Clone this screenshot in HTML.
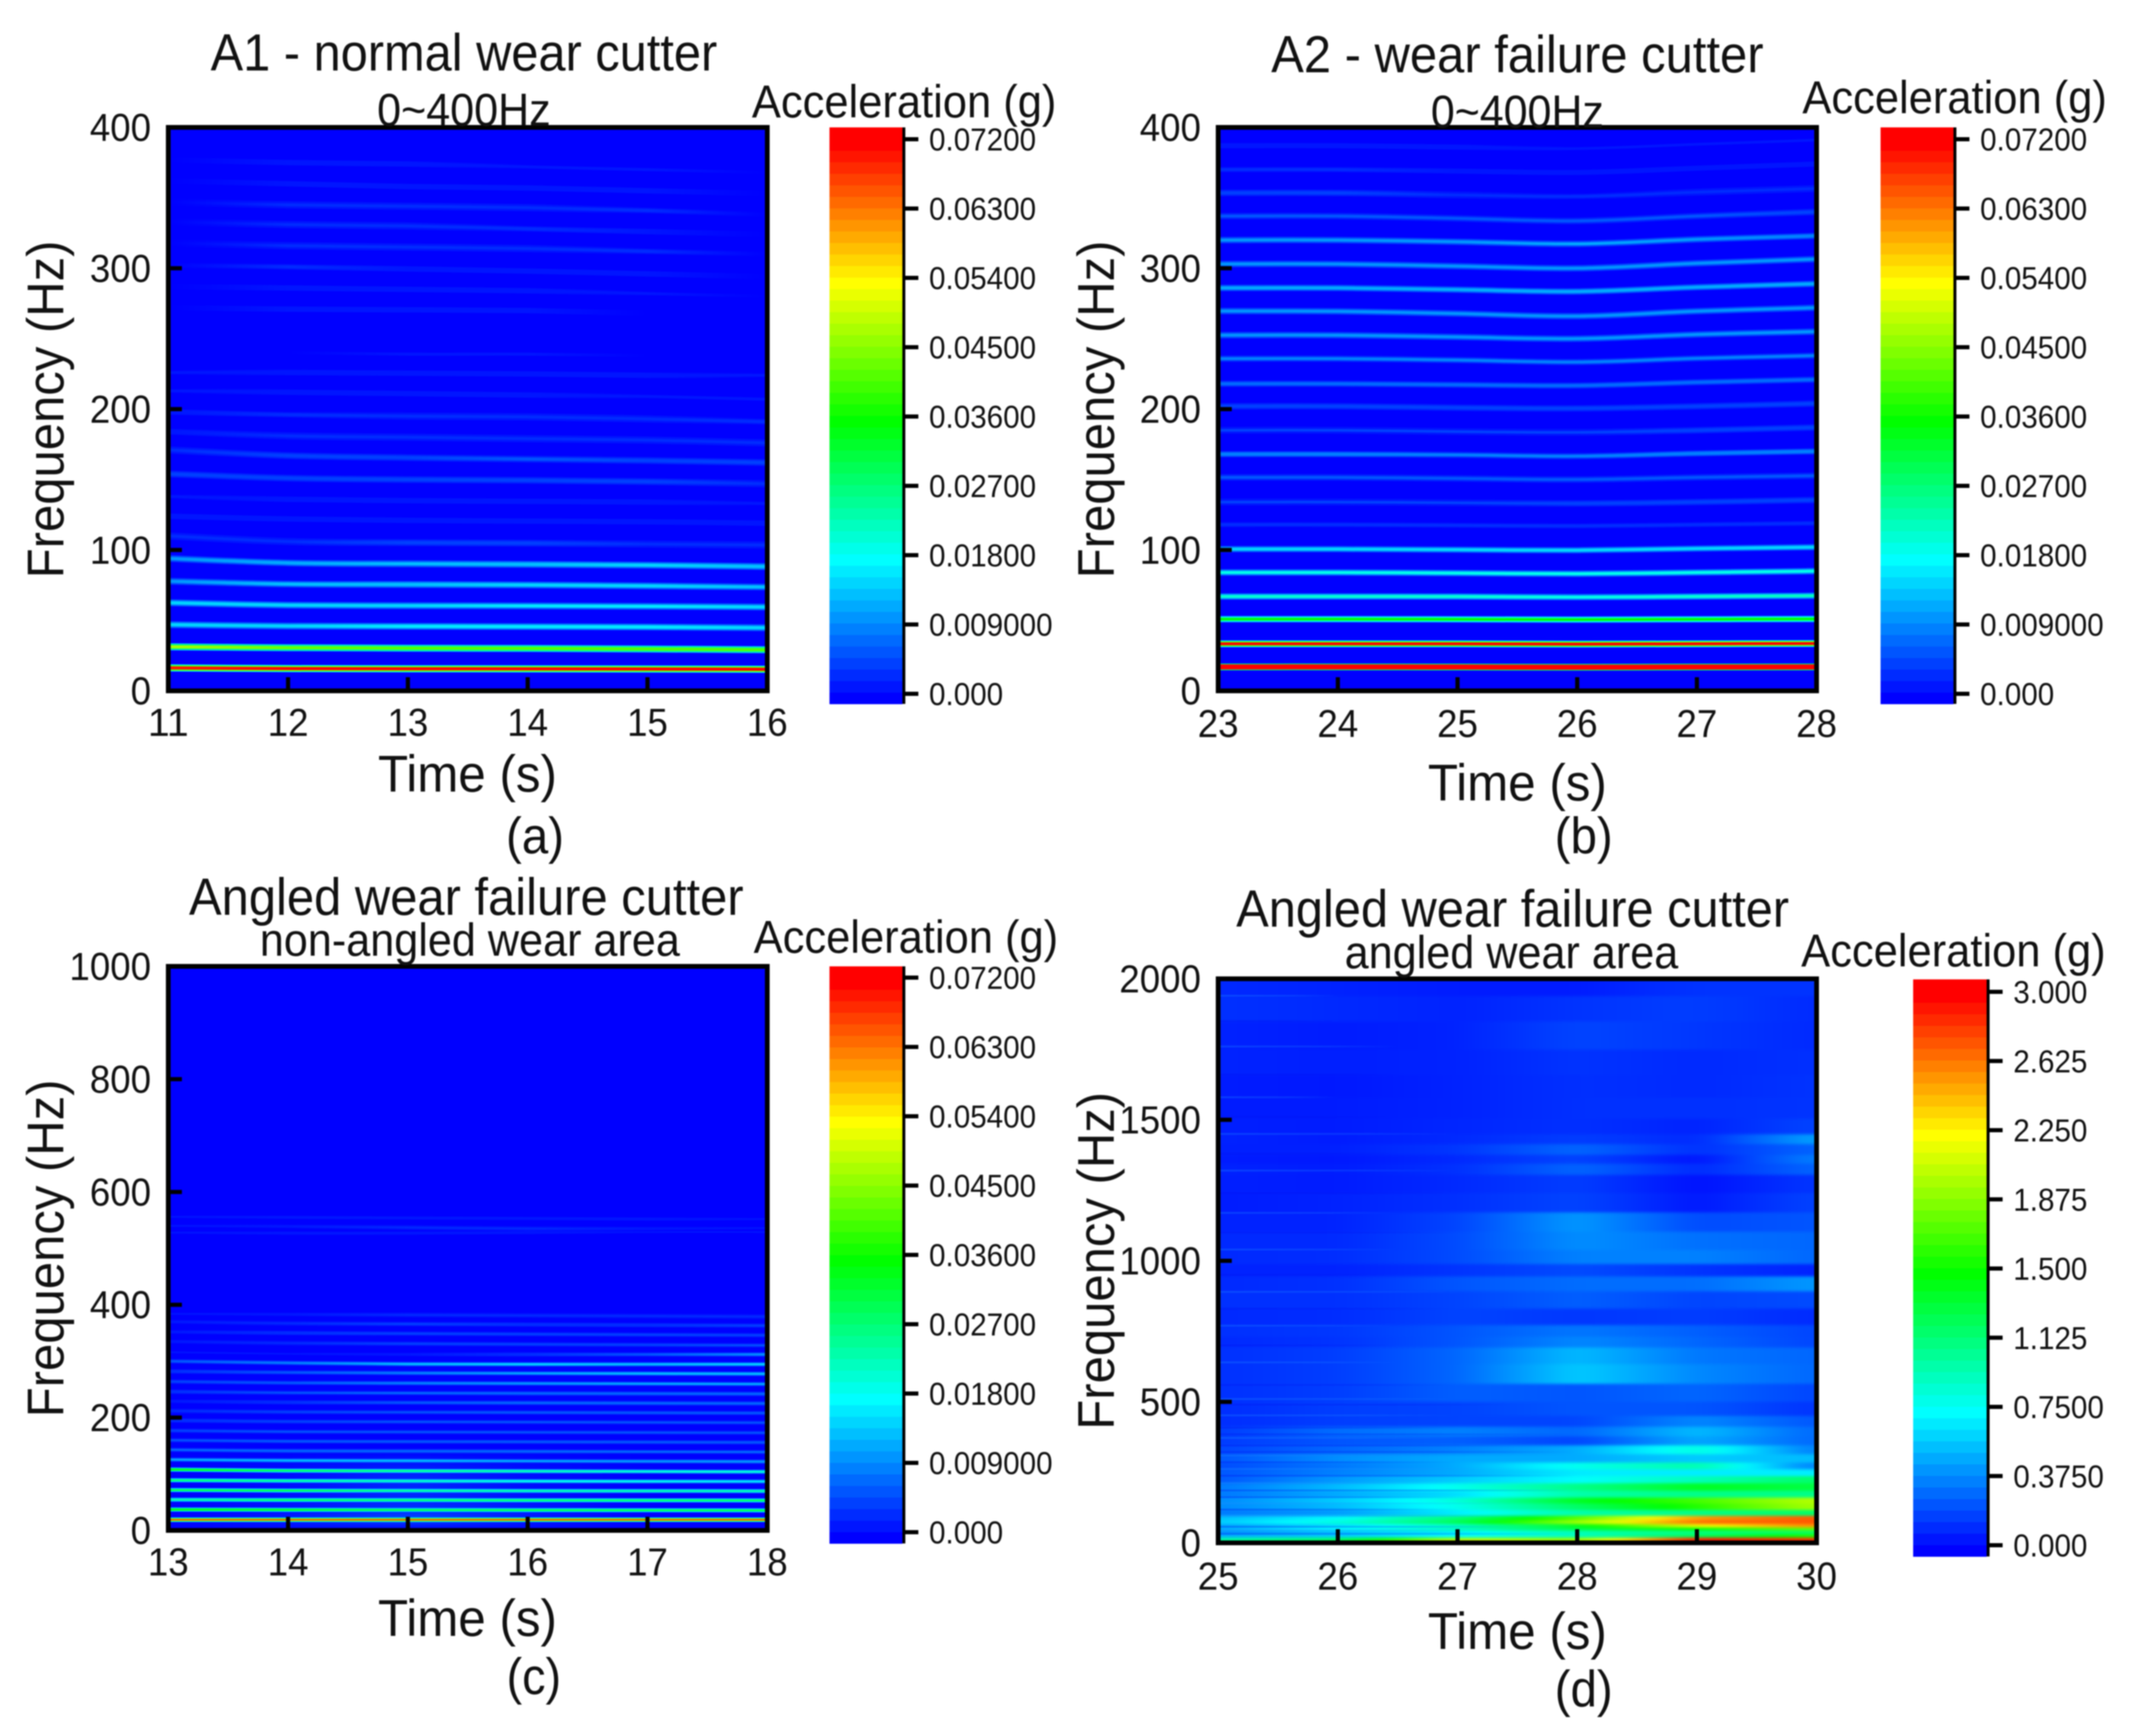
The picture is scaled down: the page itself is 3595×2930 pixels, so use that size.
<!DOCTYPE html>
<html lang="en">
<head>
<meta charset="utf-8">
<title>Time-frequency spectrograms of cutter vibration</title>
<style>
html,body{margin:0;padding:0;background:#fff;}
#figure{display:block;width:3595px;height:2930px;font-family:"Liberation Sans",Arial,sans-serif;filter:blur(1px);}
text{fill:#111;font-family:"Liberation Sans",Arial,sans-serif;}
.title{font-size:88px;text-anchor:middle;}
.sub{font-size:78px;text-anchor:middle;}
.cbt{font-size:78px;text-anchor:middle;}
.axt{font-size:87px;text-anchor:middle;}
.cap{font-size:86px;text-anchor:middle;}
</style>
</head>
<body>
<svg id="figure" xmlns="http://www.w3.org/2000/svg" width="3595" height="2930" viewBox="0 0 3595 2930">
  <rect x="0" y="0" width="3595" height="2930" fill="#fff"/>
  <defs id="defs"></defs>

  <g id="panel-a"></g>
  <g id="panel-b"></g>
  <g id="panel-c"></g>
  <g id="panel-d"></g>

  <text class="title" x="783" y="119" textLength="855" lengthAdjust="spacingAndGlyphs">A1 - normal wear cutter</text>
  <text class="sub" x="783" y="212" textLength="293" lengthAdjust="spacingAndGlyphs">0~400Hz</text>
  <text class="cbt" x="1526" y="198" textLength="514" lengthAdjust="spacingAndGlyphs">Acceleration (g)</text>
  <text class="axt" x="789" y="1336" textLength="302" lengthAdjust="spacingAndGlyphs">Time (s)</text>
  <text class="axt" transform="translate(107,691) rotate(-90)" textLength="570" lengthAdjust="spacingAndGlyphs">Frequency (Hz)</text>
  <text class="cap" x="903" y="1440" textLength="98" lengthAdjust="spacingAndGlyphs">(a)</text>

  <text class="title" x="2561" y="122" textLength="831" lengthAdjust="spacingAndGlyphs">A2 - wear failure cutter</text>
  <text class="sub" x="2561" y="215" textLength="292" lengthAdjust="spacingAndGlyphs">0~400Hz</text>
  <text class="cbt" x="3299" y="191" textLength="514" lengthAdjust="spacingAndGlyphs">Acceleration (g)</text>
  <text class="axt" x="2561" y="1351" textLength="302" lengthAdjust="spacingAndGlyphs">Time (s)</text>
  <text class="axt" transform="translate(1880,691) rotate(-90)" textLength="570" lengthAdjust="spacingAndGlyphs">Frequency (Hz)</text>
  <text class="cap" x="2673" y="1440" textLength="98" lengthAdjust="spacingAndGlyphs">(b)</text>

  <text class="title" x="787" y="1544" textLength="936" lengthAdjust="spacingAndGlyphs">Angled wear failure cutter</text>
  <text class="sub" x="793" y="1613" textLength="709" lengthAdjust="spacingAndGlyphs">non-angled wear area</text>
  <text class="cbt" x="1529" y="1608" textLength="514" lengthAdjust="spacingAndGlyphs">Acceleration (g)</text>
  <text class="axt" x="789" y="2761" textLength="302" lengthAdjust="spacingAndGlyphs">Time (s)</text>
  <text class="axt" transform="translate(107,2107) rotate(-90)" textLength="570" lengthAdjust="spacingAndGlyphs">Frequency (Hz)</text>
  <text class="cap" x="901" y="2859" textLength="92" lengthAdjust="spacingAndGlyphs">(c)</text>

  <text class="title" x="2553" y="1564" textLength="933" lengthAdjust="spacingAndGlyphs">Angled wear failure cutter</text>
  <text class="sub" x="2551" y="1634" textLength="563" lengthAdjust="spacingAndGlyphs">angled wear area</text>
  <text class="cbt" x="3297" y="1631" textLength="514" lengthAdjust="spacingAndGlyphs">Acceleration (g)</text>
  <text class="axt" x="2561" y="2783" textLength="302" lengthAdjust="spacingAndGlyphs">Time (s)</text>
  <text class="axt" transform="translate(1880,2128) rotate(-90)" textLength="570" lengthAdjust="spacingAndGlyphs">Frequency (Hz)</text>
  <text class="cap" x="2673" y="2880" textLength="98" lengthAdjust="spacingAndGlyphs">(d)</text>
</svg>

<script>
/* ---------- shared tick labels ---------- */
const smallBarTicks = ["0.000","0.009000","0.01800","0.02700","0.03600","0.04500","0.05400","0.06300","0.07200"];
const largeBarTicks = ["0.000","0.3750","0.7500","1.125","1.500","1.875","2.250","2.625","3.000"];

/* ---------- panel a: normal wear cutter ---------- */
const aTimes = [11,12,13,14,15,16];
const aFreqTicks = [0,100,200,300,400];
const aRidgeFreqs = [
  [16.3,15.8,15.7,15.6,15.5,15.3],
  [31.3,30.6,30.3,30.1,29.7,29.2],
  [47,46,45.8,45.6,45.3,44.8],
  [62.6,60.8,60.5,60.3,60,59.5],
  [77.8,75.8,75.5,75.2,74.5,73.7],
  [94,90.8,90.2,89.8,89.2,88.2],
  [110,106,105.2,104.8,104.2,103.5],
  [124,122,121,120.5,120,119],
  [138,136,135,134.5,134,133],
  [154,151,150,149.5,148.5,147],
  [171,167,165.5,164.5,163.5,162],
  [184,181,180,179,178,176],
  [198,196,195,194.5,193,191],
  [213,212,211,210,209,207],
  [226,226,225.5,225,224,224],
  [241,240,239,239,238,237],
  [272,271,270.5,270,268,266],
  [287,286,285,284,282,280],
  [302,301,299.5,298,296,294],
  [318,316,315,314,312,310],
  [333,331,330,328,326,324],
  [347,345,344,343,341,338],
  [362,360,358,357,355,353],
  [377,375,374,372,370,368]
];
const aRidgeAmps = [
  [0.07,0.072,0.072,0.072,0.072,0.072],
  [0.048,0.043,0.042,0.042,0.042,0.042],
  [0.0145,0.0155,0.0165,0.0165,0.0165,0.0155],
  [0.0155,0.0145,0.0155,0.016,0.016,0.015],
  [0.0105,0.013,0.014,0.0145,0.0145,0.013],
  [0.0105,0.0125,0.0135,0.014,0.0145,0.014],
  [0.003,0.0035,0.004,0.004,0.0035,0.003],
  [0.0015,0.0015,0.0015,0.0015,0.0015,0.0015],
  [0.001,0.0015,0.0018,0.0015,0.0015,0.001],
  [0.004,0.004,0.0045,0.0045,0.004,0.0035],
  [0.003,0.0045,0.005,0.0055,0.005,0.0045],
  [0.0015,0.003,0.0035,0.0035,0.0035,0.003],
  [0.0015,0.0025,0.003,0.003,0.003,0.0025],
  [0.0008,0.0015,0.0018,0.0018,0.0012,0.0008],
  [0.001,0.0015,0.002,0.0018,0.0015,0.001],
  [0,0.0005,0.0012,0.0012,0.0005,0],
  [0,0.0016,0.002,0.0018,0.0006,0],
  [0,0.0018,0.002,0.0018,0.0012,0],
  [0,0.0024,0.002,0.0018,0.0015,0.0005],
  [0,0.0028,0.003,0.0028,0.0025,0.0006],
  [0,0.0028,0.0028,0.0025,0.0022,0.0006],
  [0,0.0028,0.003,0.0028,0.0024,0.0005],
  [0,0.002,0.002,0.0015,0.0015,0.0005],
  [0,0.0016,0.0016,0.0012,0.0008,0]
];

/* ---------- panel b: wear failure cutter ---------- */
const bTimes = [23,24,25,26,27,28];
const bFreqTicks = [0,100,200,300,400];
const bRidgeFreqs = [
  [17,17,16.9,16.8,16.9,17],
  [33.4,33.4,33.4,33.2,33.4,33.6],
  [50.9,50.9,50.8,50.6,50.8,51],
  [67,67,66.9,66.5,67,67.5],
  [84,84,83.6,83.1,84,85],
  [100.6,100.6,100.2,99.8,101,102],
  [118,118,117.5,117,118,119],
  [134,134,133.5,133,134,135.5],
  [151.5,151.5,150.8,150,151.5,152.7],
  [168,168,167.5,166.6,168.5,170],
  [185,185,184,183.5,185,187],
  [202,202,201,200.5,202,204],
  [218,218,217.3,216.7,219,221],
  [235.8,235.8,234.8,233.4,236,238],
  [252.5,252.5,251.2,250,253,255],
  [269.6,269.4,267.8,266,269.5,272],
  [286,286,284.8,283.5,286.5,289],
  [303,303,301.5,300,303.5,306.5],
  [320,320,318.8,317.3,320.5,323],
  [337,337,335.4,333.6,337,340],
  [353.5,353.5,352,351,354,356.6],
  [370,370,369,368,371,374],
  [387,387,386,385,388,391]
];
const bRidgeAmps = [
  [0.13,0.13,0.13,0.13,0.13,0.13],
  [0.075,0.075,0.075,0.075,0.078,0.078],
  [0.036,0.036,0.036,0.036,0.036,0.036],
  [0.021,0.021,0.021,0.02,0.021,0.022],
  [0.02,0.02,0.02,0.019,0.02,0.02],
  [0.0155,0.0155,0.0155,0.0155,0.0155,0.0155],
  [0.003,0.003,0.003,0.003,0.003,0.003],
  [0.004,0.004,0.004,0.0045,0.0045,0.0045],
  [0.0065,0.0065,0.0065,0.0065,0.0065,0.0065],
  [0.0095,0.0095,0.009,0.009,0.0095,0.0095],
  [0.004,0.004,0.004,0.004,0.0045,0.0045],
  [0.0045,0.0045,0.0045,0.0045,0.0045,0.0045],
  [0.0075,0.0075,0.0075,0.0075,0.0075,0.0075],
  [0.0085,0.0085,0.0085,0.0085,0.0085,0.0085],
  [0.0105,0.0105,0.0105,0.0105,0.0105,0.0105],
  [0.0105,0.0105,0.0105,0.0105,0.0105,0.0105],
  [0.0125,0.0125,0.0125,0.0125,0.0125,0.0125],
  [0.0105,0.0105,0.0105,0.0105,0.0105,0.0105],
  [0.0105,0.0105,0.0105,0.0115,0.0105,0.0095],
  [0.0055,0.0055,0.0055,0.0055,0.0055,0.005],
  [0.0042,0.0042,0.0035,0.003,0.0035,0.0035],
  [0.0025,0.0025,0.002,0.0018,0.0018,0.0018],
  [0.0014,0.0014,0.0014,0.001,0.001,0.001]
];

/* ---------- panel c: non-angled wear area ---------- */
const cTimes = [13,14,15,16,17,18];
const cFreqTicks = [0,200,400,600,800,1000];
const cRidgeFreqs = [
  [18.9,18.9,18.9,18.9,18.9,18.9],
  [37,36.6,36.3,36,35.8,35.5],
  [54.5,54,53.8,53.5,53.4,53.2],
  [71.6,70.7,70.5,70.2,70,69.8],
  [89,88,87.6,87.3,87,86.8],
  [108,106,105.5,105,104.5,104],
  [125.5,124,123.5,123,122.5,122],
  [143,141,140.5,140,139.5,139],
  [160,158,157.5,157,156.5,156],
  [177,175,174.5,174,173.5,173],
  [195,193,192.5,192,191.5,191],
  [212,210,209.5,209,208.5,208],
  [229,227,226.5,226,225.5,225],
  [246,244,243.5,243,242.5,242],
  [264,261.6,261,260.5,260,259.5],
  [282,280,279,278.5,278,277.5],
  [300,297,295,294.5,294.5,294.5],
  [316,313,312,312,312,312],
  [335,332,331,330,329,328],
  [352,350,349,348,347,346],
  [370,367,366,365,364,363],
  [384,383,382,381,380,379],
  [528,527,527,528,529,529],
  [540,539,537,535,535,536],
  [556,555,554,553,552,552]
];
const cRidgeAmps = [
  [0.066,0.066,0.066,0.066,0.066,0.066],
  [0.036,0.034,0.031,0.031,0.031,0.031],
  [0.024,0.03,0.029,0.029,0.029,0.03],
  [0.031,0.031,0.026,0.024,0.024,0.024],
  [0.029,0.026,0.023,0.02,0.019,0.017],
  [0.036,0.03,0.027,0.024,0.021,0.021],
  [0.012,0.013,0.013,0.012,0.011,0.011],
  [0.007,0.0075,0.0075,0.0075,0.007,0.007],
  [0.0055,0.006,0.006,0.006,0.006,0.006],
  [0.005,0.0055,0.0055,0.0055,0.0055,0.0055],
  [0.0035,0.0045,0.0055,0.0055,0.0055,0.0055],
  [0.003,0.004,0.0055,0.006,0.006,0.006],
  [0.002,0.0035,0.006,0.0075,0.0075,0.0075],
  [0.0035,0.0055,0.007,0.0075,0.0075,0.0075],
  [0.004,0.006,0.009,0.011,0.012,0.012],
  [0.0035,0.006,0.009,0.012,0.013,0.013],
  [0.006,0.009,0.013,0.015,0.014,0.015],
  [0.001,0.001,0.002,0.0035,0.006,0.011],
  [0.002,0.003,0.004,0.0045,0.005,0.0055],
  [0.002,0.0035,0.004,0.004,0.0045,0.005],
  [0.002,0.003,0.004,0.0035,0.0035,0.004],
  [0.001,0.0018,0.0025,0.0025,0.003,0.003],
  [0.0008,0.0012,0.0015,0.0015,0.001,0.0008],
  [0.001,0.0015,0.0028,0.0028,0.002,0.0008],
  [0.0008,0.0012,0.0015,0.0015,0.0015,0.0008]
];
const cBroadFreqs = [6,20,36,54,72,90,108,124,145];
const cBroadValues = [
  [0,0.0008,0.0012,0.0006,0,0],
  [0,0.002,0.0055,0.0018,0,0],
  [0,0.0012,0.0035,0.0018,0,0],
  [0,0.0012,0.003,0.0012,0,0],
  [0,0.0008,0.0028,0.0008,0,0],
  [0,0.0008,0.0028,0.0008,0,0],
  [0,0.0008,0.0022,0.0008,0,0],
  [0,0.0004,0.0012,0.0004,0,0],
  [0,0,0,0,0,0]
];

/* ---------- panel d: angled wear area ---------- */
const dTimes = [25,26,27,28,29,30];
const dFreqTicks = [0,500,1000,1500,2000];
const dFreqs = [5,14,25,39,50,62,74,88,106,130,151,172,200,225,250,274,298,333,361,396,430,473,530,600,670,718,747,800,864,922,970,1009,1071,1138,1208,1275,1337,1354,1400,1430,1470,1540,1620,1700,1800,1900,1980];
const dValues = [
  [1.1,1.3,2.4,2.0,3.0,2.95],
  [1.0,1.2,2.0,1.9,2.95,2.85],
  [0.5,0.6,0.75,0.95,1.25,1.6],
  [0.4,0.55,0.7,0.95,1.1,1.2],
  [0.5,0.75,0.95,1.3,1.5,1.8],
  [0.45,0.65,0.9,1.4,2.2,2.6],
  [0.6,0.85,1.25,2.0,2.7,2.75],
  [0.55,0.75,1.15,1.75,2.55,2.75],
  [0.35,0.45,0.7,1.0,1.1,1.2],
  [0.4,0.55,0.8,1.2,1.6,2.0],
  [0.4,0.6,0.85,1.4,1.7,2.05],
  [0.35,0.5,0.65,1.0,1.1,1.1],
  [0.35,0.55,0.8,1.1,1.4,1.3],
  [0.25,0.45,0.6,0.75,0.95,1.2],
  [0.25,0.38,0.5,0.7,0.7,0.7],
  [0.22,0.35,0.5,0.8,1.0,0.35],
  [0.25,0.42,0.5,0.5,0.6,0.55],
  [0.2,0.3,0.38,0.5,0.85,0.35],
  [0.17,0.25,0.28,0.2,0.5,0.3],
  [0.17,0.32,0.38,0.3,0.55,0.3],
  [0.13,0.18,0.2,0.2,0.4,0.25],
  [0.13,0.18,0.2,0.25,0.25,0.15],
  [0.14,0.18,0.28,0.25,0.3,0.2],
  [0.14,0.18,0.3,0.6,0.4,0.3],
  [0.14,0.18,0.3,0.55,0.35,0.3],
  [0.12,0.15,0.25,0.4,0.3,0.2],
  [0.14,0.16,0.25,0.35,0.28,0.2],
  [0.12,0.13,0.2,0.16,0.18,0.12],
  [0.14,0.14,0.2,0.28,0.2,0.22],
  [0.12,0.14,0.25,0.32,0.32,0.45],
  [0.1,0.1,0.15,0.22,0.15,0.1],
  [0.12,0.13,0.22,0.38,0.38,0.3],
  [0.12,0.12,0.22,0.42,0.33,0.3],
  [0.1,0.1,0.2,0.45,0.22,0.25],
  [0.08,0.1,0.14,0.2,0.07,0.2],
  [0.09,0.08,0.12,0.18,0.05,0.16],
  [0.1,0.08,0.14,0.3,0.12,0.3],
  [0.08,0.07,0.12,0.2,0.06,0.38],
  [0.09,0.09,0.16,0.3,0.14,0.3],
  [0.1,0.08,0.12,0.18,0.12,0.48],
  [0.09,0.08,0.11,0.14,0.1,0.2],
  [0.08,0.08,0.1,0.14,0.14,0.15],
  [0.08,0.07,0.1,0.14,0.12,0.15],
  [0.1,0.09,0.1,0.15,0.12,0.14],
  [0.1,0.08,0.1,0.2,0.16,0.12],
  [0.14,0.12,0.1,0.15,0.18,0.12],
  [0.12,0.1,0.08,0.08,0.15,0.15]
];
const dStreakFreqs = [32,44,57,96,118,140,162,186,212,238,262,286,310,322,345,372,385,408,452,490,510,560,640,700,770,830,890,950,1040,1100,1170,1240,1320,1380,1450,1510,1580,1660,1760,1850,1940];
const dStreakEnds = [28,27,27.5,28,27,27.5,27,28,27,28,27.5,27,27,28,27.5,27,28,27,27,27.5,27,27,26.5,26.5,26.5,27,27,26.5,26.5,27,26.5,27,27,26.5,27,26.5,26,26.5,26.5,26,26];
const dStreakSigns = [-1,1,-1,1,-1,1,-1,-1,1,-1,1,-1,1,-1,-1,1,-1,-1,1,-1,1,-1,1,-1,1,-1,1,-1,1,-1,1,-1,1,-1,1,-1,1,-1,1,-1,1];

/* ---------- rendering ---------- */
const SVGNS = "http://www.w3.org/2000/svg";
const defs = document.getElementById("defs");
let uid = 0;

function jetRaw(f0) {
  const f = Math.max(0, Math.min(1, f0));
  let r = 0, g = 0, b = 0;
  if (f < 0.25) { g = f * 4 * 255; b = 255; }
  else if (f < 0.5) { g = 255; b = (1 - (f - 0.25) * 4) * 255; }
  else if (f < 0.75) { r = (f - 0.5) * 4 * 255; g = 255; }
  else { r = 255; g = (1 - (f - 0.75) * 4) * 255; }
  return "rgb(" + Math.round(r) + "," + Math.round(g) + "," + Math.round(b) + ")";
}

function jetColor(frac) {
  return jetRaw(Math.round(frac * 48) / 48);
}

function make(tag, attrs, parent) {
  const el = document.createElementNS(SVGNS, tag);
  for (const k in attrs) el.setAttribute(k, attrs[k]);
  parent.appendChild(el);
  return el;
}

function makeAxes(geo, times, freqTicks) {
  const fMax = freqTicks[freqTicks.length - 1];
  return {
    x: t => geo.left + (t - times[0]) / (times[times.length - 1] - times[0]) * (geo.right - geo.left),
    y: f => geo.bottom - f / fMax * (geo.bottom - geo.top)
  };
}

function smoothPath(pts) {
  let d = "M" + pts[0][0].toFixed(1) + " " + pts[0][1].toFixed(1);
  for (let i = 0; i < pts.length - 1; i++) {
    const p0 = pts[Math.max(0, i - 1)], p1 = pts[i], p2 = pts[i + 1], p3 = pts[Math.min(pts.length - 1, i + 2)];
    const c1x = p1[0] + (p2[0] - p0[0]) / 6, c1y = p1[1] + (p2[1] - p0[1]) / 6;
    const c2x = p2[0] - (p3[0] - p1[0]) / 6, c2y = p2[1] - (p3[1] - p1[1]) / 6;
    d += "C" + c1x.toFixed(1) + " " + c1y.toFixed(1) + " " + c2x.toFixed(1) + " " + c2y.toFixed(1) + " " + p2[0].toFixed(1) + " " + p2[1].toFixed(1);
  }
  return d;
}

function drawHeat(parent, axes, geo, times, freqs, values, vMax, blurX, blurY, topFreqEdge) {
  const clipId = "clip" + (++uid);
  const clip = make("clipPath", {id: clipId}, defs);
  make("rect", {x: geo.left, y: geo.top, width: geo.right - geo.left, height: geo.bottom - geo.top}, clip);
  const filterId = "heatblur" + (++uid);
  const filter = make("filter", {id: filterId, filterUnits: "userSpaceOnUse", x: geo.left - 100, y: geo.top - 100, width: geo.right - geo.left + 200, height: geo.bottom - geo.top + 200, "color-interpolation-filters": "sRGB"}, defs);
  make("feGaussianBlur", {stdDeviation: blurX + " " + blurY}, filter);
  const outer = make("g", {"clip-path": "url(#" + clipId + ")"}, parent);
  
  
  const inner = make("g", {filter: "url(#" + filterId + ")"}, outer);
  const SUB = 6;
  for (let r = 0; r < freqs.length; r++) {
    const loF = r === 0 ? -160 : (freqs[r - 1] + freqs[r]) / 2;
    const hiF = r === freqs.length - 1 ? topFreqEdge : (freqs[r] + freqs[r + 1]) / 2;
    const yTop = axes.y(hiF);
    const yBot = axes.y(loF);
    for (let c = 0; c < times.length - 1; c++) {
      for (let s = 0; s < SUB; s++) {
        const frac = (s + 0.5) / SUB;
        const v = values[r][c] + (values[r][c + 1] - values[r][c]) * frac;
        const t0 = times[c] + (times[c + 1] - times[c]) * s / SUB;
        const t1 = times[c] + (times[c + 1] - times[c]) * (s + 1) / SUB;
        let xa = axes.x(t0), xb = axes.x(t1);
        if (c === 0 && s === 0) xa -= 90;
        if (c === times.length - 2 && s === SUB - 1) xb += 90;
        const cell = make("rect", {x: xa, y: yTop, width: xb - xa + 0.6, height: yBot - yTop + 0.6, fill: jetRaw(v / vMax)}, inner);
        
        
      }
    }
  }
  return outer;
}

function drawStreaks(parent, axes, geo, freqs, ends, signs) {
  const clipId = "clip" + (++uid);
  const clip = make("clipPath", {id: clipId}, defs);
  make("rect", {x: geo.left, y: geo.top, width: geo.right - geo.left, height: geo.bottom - geo.top}, clip);
  const group = make("g", {"clip-path": "url(#" + clipId + ")"}, parent);
  
  
  freqs.forEach((f, i) => {
    const gradId = "streak" + (++uid);
    const color = signs[i] < 0 ? "#0010f0" : "#2090ff";
    const x1 = axes.x(dTimes[0]), x2 = axes.x(ends[i]);
    const grad = make("linearGradient", {id: gradId, gradientUnits: "userSpaceOnUse", x1: x1, y1: 0, x2: x2, y2: 0}, defs);
    make("stop", {offset: 0, "stop-color": color, "stop-opacity": 0.3}, grad);
    make("stop", {offset: 0.6, "stop-color": color, "stop-opacity": 0.2}, grad);
    make("stop", {offset: 1, "stop-color": color, "stop-opacity": 0}, grad);
    const line = make("rect", {x: x1, y: axes.y(f) - 1.5, width: x2 - x1, height: 3, fill: "url(#" + gradId + ")"}, group);
    
    
  });
}

function drawRidges(parent, axes, geo, times, ridgeFreqs, ridgeAmps, vMax, layers) {
  const clipId = "clip" + (++uid);
  const clip = make("clipPath", {id: clipId}, defs);
  make("rect", {x: geo.left, y: geo.top, width: geo.right - geo.left - 3, height: geo.bottom - geo.top}, clip);
  const group = make("g", {"clip-path": "url(#" + clipId + ")"}, parent);
  
  
  ridgeFreqs.forEach((freqRow, i) => {
    const d = smoothPath(freqRow.map((f, k) => [axes.x(times[k]), axes.y(f)]));
    layers.forEach(layer => {
      const gradId = "ridge" + (++uid);
      const grad = make("linearGradient", {id: gradId, gradientUnits: "userSpaceOnUse", x1: geo.left, y1: 0, x2: geo.right, y2: 0}, defs);
      ridgeAmps[i].forEach((a, k) => {
        make("stop", {offset: k / (times.length - 1), "stop-color": jetColor(a * layer[1] / vMax)}, grad);
      });
      const line = make("path", {d: d, fill: "none", stroke: "url(#" + gradId + ")", "stroke-width": layer[0]}, group);
      
      
    });
  });
}

function drawFrame(parent, axes, geo, times, freqTicks) {
  const frame = make("rect", {x: geo.left, y: geo.top, width: geo.right - geo.left, height: geo.bottom - geo.top, fill: "none", stroke: "#000", "stroke-width": 8}, parent);
  
  
  times.forEach(t => {
    const x = axes.x(t);
    const tick = make("rect", {x: x - 3.5, y: geo.bottom - 23, width: 7, height: 23, fill: "#000"}, parent);
    
    
    const text = String(t);
    const label = make("text", {x: x, y: geo.xLabelY + 1, "text-anchor": "middle", "font-size": 66, textLength: (text.length * 0.556 * 62).toFixed(1), lengthAdjust: "spacingAndGlyphs"}, parent);
    label.textContent = text;
    
    
  });
  freqTicks.forEach(f => {
    const y = axes.y(f);
    const tick = make("rect", {x: geo.left, y: y - 3.5, width: 23, height: 7, fill: "#000"}, parent);
    
    
    const text = String(f);
    const label = make("text", {x: geo.yLabelX, y: y + 23, "text-anchor": "end", "font-size": 66, textLength: (text.length * 0.556 * 62).toFixed(1), lengthAdjust: "spacingAndGlyphs"}, parent);
    label.textContent = text;
    
    
  });
}

function drawColorbar(parent, bar, tickLabels, vMax) {
  const group = make("g", {}, parent);
  
  
  const LEVELS = 50;
  const h = (bar.bottom - bar.top) / LEVELS;
  for (let k = 0; k < LEVELS; k++) {
    const seg = make("rect", {x: bar.left, y: bar.bottom - (k + 1) * h, width: bar.right - bar.left, height: h + 0.5, fill: jetColor(k / 48)}, group);
    
    
  }
  const spine = make("rect", {x: bar.right, y: bar.top, width: 5, height: bar.bottom - bar.top, fill: "#000"}, group);
  
  
  tickLabels.forEach(txt => {
    const v = parseFloat(txt);
    const y = bar.tick0 + (bar.tickMax - bar.tick0) * v / vMax;
    const tick = make("rect", {x: bar.right + 5, y: y - 3.5, width: 22, height: 7, fill: "#000"}, group);
    
    
    const width = ((txt.length - 1) * 0.556 + 0.278) * 50;
    const label = make("text", {x: bar.right + 45, y: y + 19, "font-size": 54, textLength: width.toFixed(1), lengthAdjust: "spacingAndGlyphs"}, group);
    label.textContent = txt;
    
    
  });
}

function plotBackground(parent, geo) {
  const bg = make("rect", {x: geo.left, y: geo.top, width: geo.right - geo.left, height: geo.bottom - geo.top, fill: "#0000ff"}, parent);
  
  
}

/* panel a */
(function () {
  const parent = document.getElementById("panel-a");
  const geo = {left: 284, right: 1295, top: 215, bottom: 1166, xLabelY: 1241, yLabelX: 255};
  const axes = makeAxes(geo, aTimes, aFreqTicks);
  plotBackground(parent, geo);
  drawRidges(parent, axes, geo, aTimes, aRidgeFreqs, aRidgeAmps, 0.072, [[12, 0.28], [9, 0.6], [5, 1]]);
  drawFrame(parent, axes, geo, aTimes, aFreqTicks);
  drawColorbar(parent, {left: 1400, right: 1523, top: 215, bottom: 1188, tick0: 1171, tickMax: 235}, smallBarTicks, 0.072);
})();

/* panel b */
(function () {
  const parent = document.getElementById("panel-b");
  const geo = {left: 2056, right: 3066, top: 215, bottom: 1166, xLabelY: 1243, yLabelX: 2027};
  const axes = makeAxes(geo, bTimes, bFreqTicks);
  plotBackground(parent, geo);
  drawRidges(parent, axes, geo, bTimes, bRidgeFreqs, bRidgeAmps, 0.072, [[11.5, 0.22], [8.5, 0.56], [4.5, 1]]);
  drawFrame(parent, axes, geo, bTimes, bFreqTicks);
  drawColorbar(parent, {left: 3174, right: 3297, top: 215, bottom: 1188, tick0: 1171, tickMax: 235}, smallBarTicks, 0.072);
})();

/* panel c */
(function () {
  const parent = document.getElementById("panel-c");
  const geo = {left: 284, right: 1295, top: 1631, bottom: 2583, xLabelY: 2658, yLabelX: 255};
  const axes = makeAxes(geo, cTimes, cFreqTicks);
  plotBackground(parent, geo);
  drawHeat(parent, axes, geo, cTimes, cBroadFreqs, cBroadValues, 0.072, 30, 4, 160);
  drawRidges(parent, axes, geo, cTimes, cRidgeFreqs, cRidgeAmps, 0.072, [[7.5, 0.3], [5, 0.65], [2.6, 1]]);
  drawFrame(parent, axes, geo, cTimes, cFreqTicks);
  drawColorbar(parent, {left: 1400, right: 1523, top: 1631, bottom: 2605, tick0: 2586, tickMax: 1650}, smallBarTicks, 0.072);
})();

/* panel d */
(function () {
  const parent = document.getElementById("panel-d");
  const geo = {left: 2056, right: 3066, top: 1652, bottom: 2604, xLabelY: 2682, yLabelX: 2027};
  const axes = makeAxes(geo, dTimes, dFreqTicks);
  plotBackground(parent, geo);
  drawHeat(parent, axes, geo, dTimes, dFreqs, dValues, 3, 20, 2.5, 2200);
  drawStreaks(parent, axes, geo, dStreakFreqs, dStreakEnds, dStreakSigns);
  drawFrame(parent, axes, geo, dTimes, dFreqTicks);
  drawColorbar(parent, {left: 3229, right: 3353, top: 1653, bottom: 2627, tick0: 2608, tickMax: 1674}, largeBarTicks, 3);
})();
</script>
</body>
</html>
